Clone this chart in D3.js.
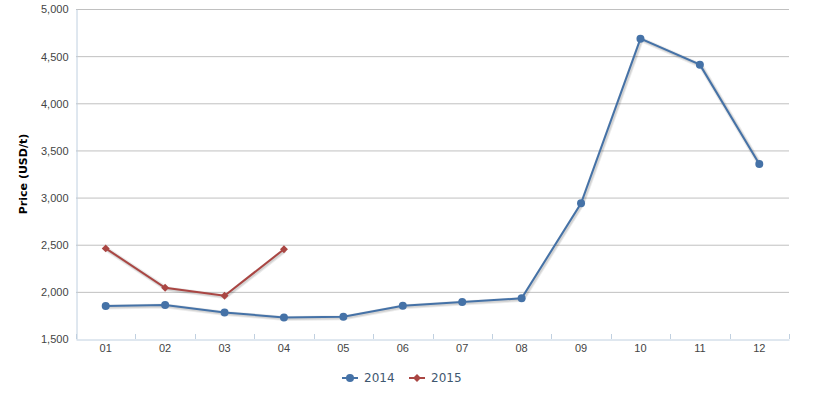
<!DOCTYPE html>
<html><head><meta charset="utf-8">
<script src="https://cdn.jsdelivr.net/npm/d3@7"></script>
<style>body{margin:0;background:#fff}svg{display:block;font-family:"DejaVu Sans",Verdana,sans-serif}</style>
</head><body><svg id="c" width="816" height="394"></svg>
<script>
const months = ["01","02","03","04","05","06","07","08","09","10","11","12"];
const series2014 = [1850,1860,1782,1729,1737,1852,1892,1931,2940,4685,4410,3355];
const series2015 = [2461,2044,1959,2452];
const yTicks = [1500,2000,2500,3000,3500,4000,4500,5000];
const seriesNames = ["2014","2015"];
const colors = ["#4572A7","#AA4643"];

const svg = d3.select("#c");
const L=76, R=789, T=9, B=339;
const x = d3.scaleBand().domain(months).range([L,R]);
const y = d3.scaleLinear().domain([1500,5000]).range([B,T]);

// grid
svg.append("g").selectAll("line").data(yTicks.slice(1)).join("line")
  .attr("x1",L).attr("x2",R).attr("y1",d=>y(d)+0.5).attr("y2",d=>y(d)+0.5)
  .attr("stroke","#c0c0c0").attr("stroke-width",1);

// y axis
const ya = svg.append("g").attr("transform",`translate(${L+0.5},0)`)
  .call(d3.axisLeft(y).tickValues(yTicks).tickSize(0).tickPadding(8).tickFormat(d3.format(",")));
ya.select(".domain").attr("stroke","#c0d0e0");
ya.selectAll("text").attr("fill","#444").style("font-size","11px").attr("dy","0.35em");

// x axis
const xa = svg.append("g").attr("transform",`translate(0,${B+0.5})`)
  .call(d3.axisBottom(x).tickSize(0).tickPadding(5));
xa.select(".domain").attr("stroke","#c0d0e0");
xa.selectAll("text").attr("fill","#444").style("font-size","11px");
// inside ticks between categories
svg.append("g").selectAll("line").data(months.map((m,i)=>i).concat([12])).join("line")
  .attr("x1",i=>Math.round(L+i*x.step())+0.5).attr("x2",i=>Math.round(L+i*x.step())+0.5)
  .attr("y1",B-5).attr("y2",B)
  .attr("stroke","#c0d0e0");

// y title
svg.append("text").attr("transform",`translate(27,${(T+B)/2}) rotate(-90)`)
  .attr("text-anchor","middle").style("font-size","11px").style("font-weight","bold").attr("fill","#000")
  .text("Price (USD/t)");

const cx = d=>x(d)+x.bandwidth()/2;
const line = d3.line().x(d=>cx(d.m)).y(d=>y(d.v));
const data = [series2014, series2015].map(s=>s.map((v,i)=>({m:months[i],v})));

data.forEach((s,k)=>{
  const g = svg.append("g");
  g.append("path").datum(s).attr("d",line).attr("fill","none")
    .attr("stroke","#000").attr("stroke-opacity",0.08).attr("stroke-width",5)
    .attr("transform","translate(1,1)");
  g.append("path").datum(s).attr("d",line).attr("fill","none")
    .attr("stroke","#000").attr("stroke-opacity",0.1).attr("stroke-width",3)
    .attr("transform","translate(1,1)");
  g.append("path").datum(s).attr("d",line).attr("fill","none")
    .attr("stroke",colors[k]).attr("stroke-width",2);
  if(k===0){
    g.selectAll("circle").data(s).join("circle").attr("cx",d=>cx(d.m)).attr("cy",d=>y(d.v))
      .attr("r",4).attr("fill",colors[k]);
  } else {
    g.selectAll("path.m").data(s).join("path").attr("class","m")
      .attr("d",d3.symbol(d3.symbolDiamond2,40)())
      .attr("transform",d=>`translate(${cx(d.m)},${y(d.v)})`).attr("fill",colors[k]);
  }
});

// legend
const lg = svg.append("g");
const lx = [342, 409];
seriesNames.forEach((n,k)=>{
  const g = lg.append("g").attr("transform",`translate(${lx[k]},378)`);
  g.append("line").attr("x1",0).attr("x2",16).attr("stroke",colors[k]).attr("stroke-width",2);
  if(k===0) g.append("circle").attr("cx",8).attr("r",4).attr("fill",colors[k]);
  else g.append("path").attr("d",d3.symbol(d3.symbolDiamond2,40)()).attr("transform","translate(8,0)").attr("fill",colors[k]);
  g.append("text").attr("x",22).attr("dy","0.35em").style("font-size","12px").attr("fill","#3E576F").text(n);
});
</script></body></html>
